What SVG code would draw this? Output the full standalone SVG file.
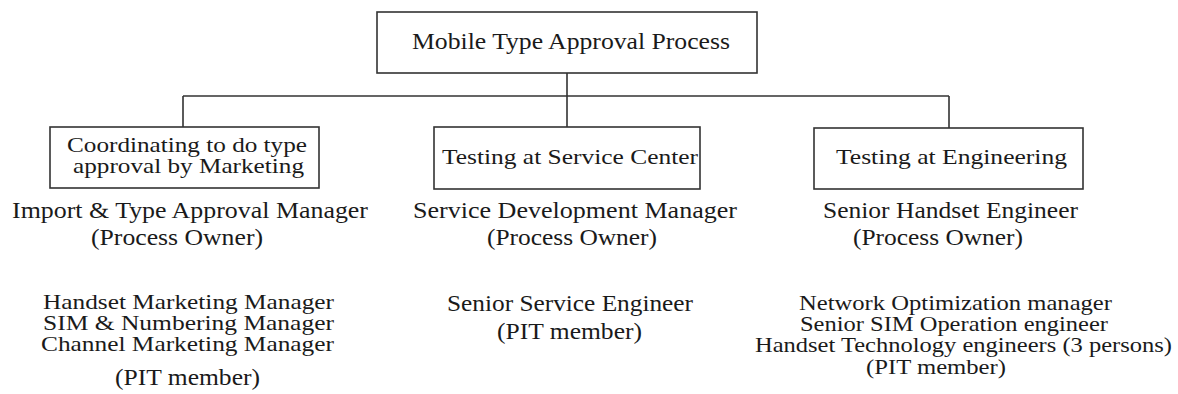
<svg xmlns="http://www.w3.org/2000/svg" width="1178" height="394" viewBox="0 0 1178 394">
<style>
.box{fill:#fff;stroke:#333;stroke-width:1.6}
.ln{fill:none;stroke:#333;stroke-width:1.6}
text{font-family:"Liberation Serif","Times New Roman",serif;fill:#1a1a1a}
.t24{font-size:24px}
.t22{font-size:22px}
.t21{font-size:21px}
</style>
<rect width="1178" height="394" fill="#fff"/>
<g id="connectors">
<path class="ln" d="M567 73V96M183 96H949M183 96V127M567 96V127M949 96V128"/>
</g>
<g id="root">
<rect class="box" x="377" y="12" width="380" height="61"/>
<text class="t24" x="412" y="49" textLength="318" lengthAdjust="spacingAndGlyphs">Mobile Type Approval Process</text>
</g>
<g id="marketing">
<rect class="box" x="50" y="127" width="269" height="61"/>
<text class="t22" x="67" y="152" textLength="240" lengthAdjust="spacingAndGlyphs">Coordinating to do type</text>
<text class="t22" x="73" y="173" textLength="231" lengthAdjust="spacingAndGlyphs">approval by Marketing</text>
</g>
<g id="service">
<rect class="box" x="434" y="127" width="266" height="62"/>
<text class="t22" x="442" y="164" textLength="256" lengthAdjust="spacingAndGlyphs">Testing at Service Center</text>
</g>
<g id="engineering">
<rect class="box" x="814" y="128" width="269" height="61"/>
<text class="t22" x="836" y="164" textLength="231" lengthAdjust="spacingAndGlyphs">Testing at Engineering</text>
</g>
<g id="marketing-people">
<text class="t24" x="12" y="218" textLength="356" lengthAdjust="spacingAndGlyphs">Import &amp; Type Approval Manager</text>
<text class="t24" x="91" y="245" textLength="172" lengthAdjust="spacingAndGlyphs">(Process Owner)</text>
<text class="t21" x="43" y="309" textLength="291" lengthAdjust="spacingAndGlyphs">Handset Marketing Manager</text>
<text class="t21" x="43" y="330" textLength="291" lengthAdjust="spacingAndGlyphs">SIM &amp; Numbering Manager</text>
<text class="t21" x="41" y="351" textLength="293" lengthAdjust="spacingAndGlyphs">Channel Marketing Manager</text>
<text class="t24" x="115" y="385" textLength="145" lengthAdjust="spacingAndGlyphs">(PIT member)</text>
</g>
<g id="service-people">
<text class="t24" x="413" y="218" textLength="324" lengthAdjust="spacingAndGlyphs">Service Development Manager</text>
<text class="t24" x="487" y="245" textLength="170" lengthAdjust="spacingAndGlyphs">(Process Owner)</text>
<text class="t24" x="447" y="311" textLength="246" lengthAdjust="spacingAndGlyphs">Senior Service Engineer</text>
<text class="t24" x="497" y="339" textLength="145" lengthAdjust="spacingAndGlyphs">(PIT member)</text>
</g>
<g id="engineering-people">
<text class="t24" x="823" y="218" textLength="255" lengthAdjust="spacingAndGlyphs">Senior Handset Engineer</text>
<text class="t24" x="853" y="245" textLength="170" lengthAdjust="spacingAndGlyphs">(Process Owner)</text>
<text class="t21" x="799" y="310" textLength="313" lengthAdjust="spacingAndGlyphs">Network Optimization manager</text>
<text class="t21" x="800" y="331" textLength="308" lengthAdjust="spacingAndGlyphs">Senior SIM Operation engineer</text>
<text class="t21" x="755" y="352" textLength="417" lengthAdjust="spacingAndGlyphs">Handset Technology engineers (3 persons)</text>
<text class="t21" x="866" y="374" textLength="140" lengthAdjust="spacingAndGlyphs">(PIT member)</text>
</g>
</svg>
